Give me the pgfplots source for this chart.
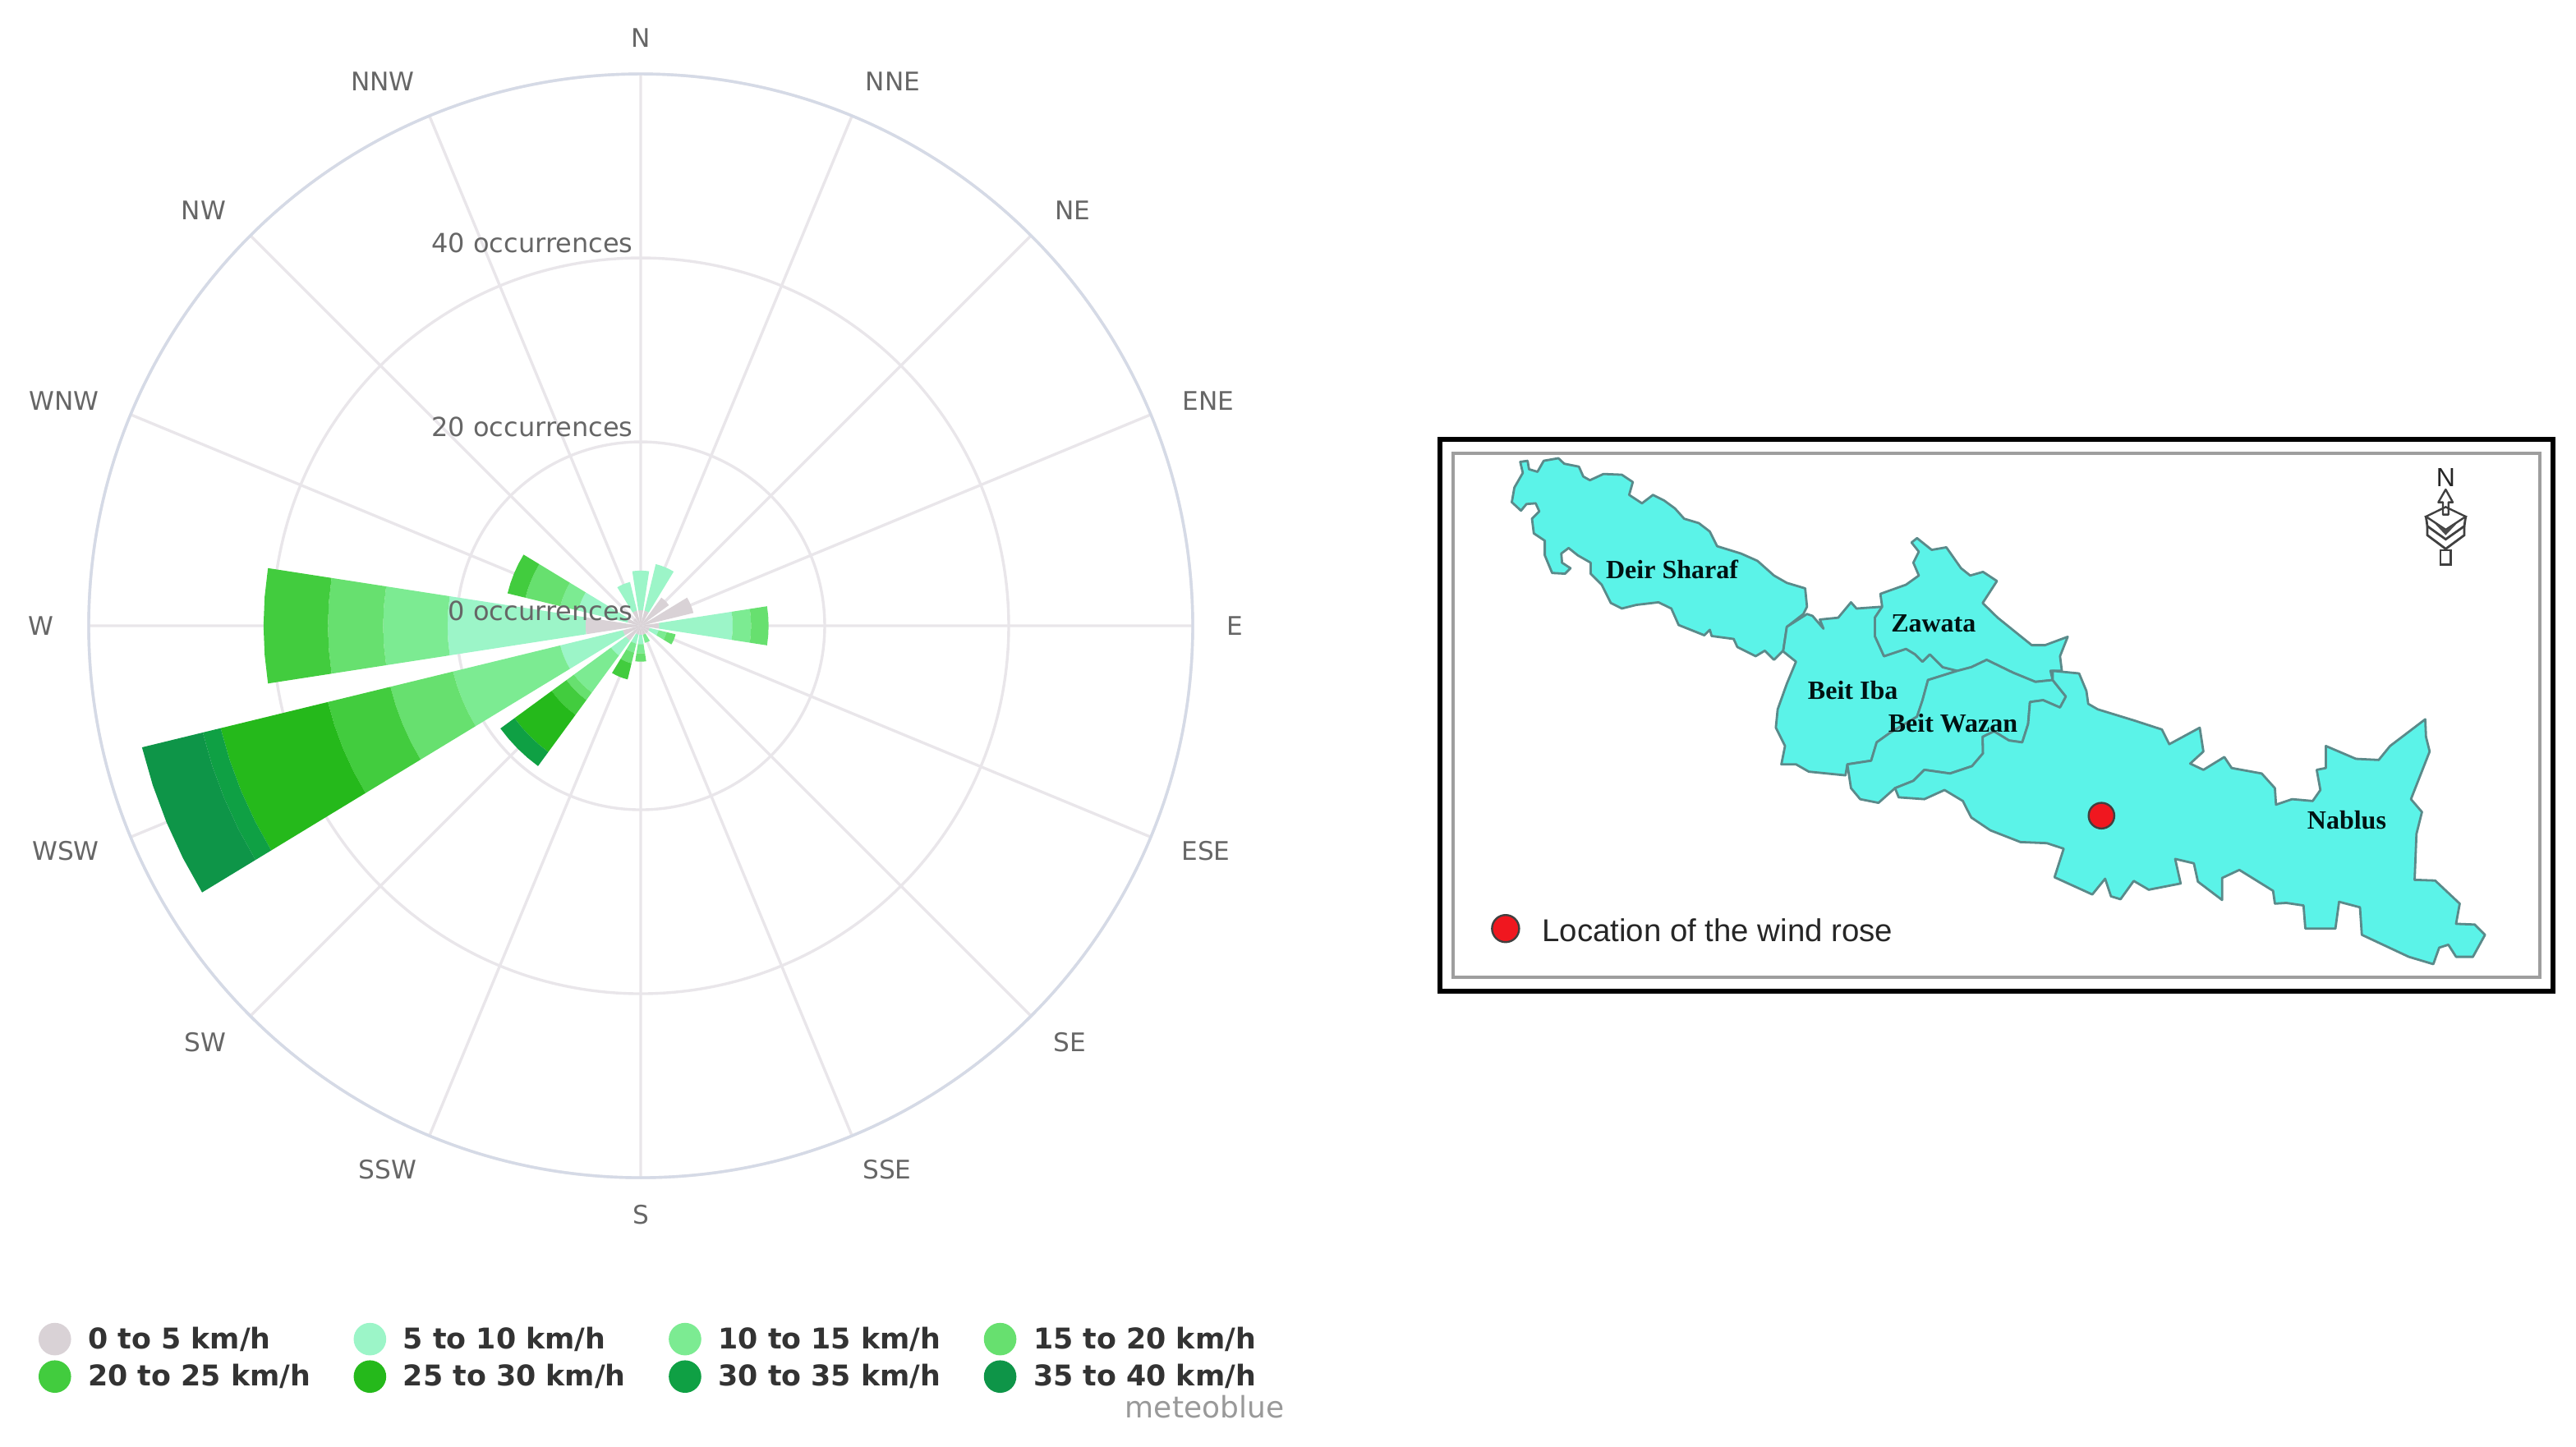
\documentclass[border=0pt]{standalone}
\usepackage{pgfplots}
\pgfplotsset{compat=1.18}
\usepgfplotslibrary{polar}
\usepackage{fontspec}
\setmainfont{DejaVu Sans}
\newfontfamily\tnr{Liberation Serif}
\newfontfamily\arialf{Liberation Sans}
\definecolor{c0}{HTML}{D9D2D6}
\definecolor{c1}{HTML}{9CF5C8}
\definecolor{c2}{HTML}{7CEB92}
\definecolor{c3}{HTML}{67E06F}
\definecolor{c4}{HTML}{42CC3E}
\definecolor{c5}{HTML}{25B91B}
\definecolor{c6}{HTML}{0FA044}
\definecolor{c7}{HTML}{0E9548}
\definecolor{gridc}{HTML}{E9E6EA}
\definecolor{rimc}{HTML}{D5DAE6}
\definecolor{labc}{HTML}{666666}
\definecolor{mapc}{HTML}{5BF3E8}
\definecolor{mapl}{HTML}{5A8A8A}
\definecolor{dotc}{HTML}{F0171F}
% one ring segment of one compass direction: bearing, r from, r to, colour
\newcommand\sector[4]{%
  \pgfmathsetmacro\ta{90-#1-8.8}%
  \pgfmathsetmacro\tb{90-#1-4.4}%
  \pgfmathsetmacro\tc{90-#1}%
  \pgfmathsetmacro\td{90-#1+4.4}%
  \pgfmathsetmacro\te{90-#1+8.8}%
  \edef\tmp{\noexpand\addplot[forget plot,fill=#4,draw=none] coordinates {(\ta,#2)(\tb,#2)(\tc,#2)(\td,#2)(\te,#2)(\te,#3)(\td,#3)(\tc,#3)(\tb,#3)(\ta,#3)} -- cycle;}%
  \tmp}
\begin{document}
\begin{tikzpicture}
\path[use as bounding box] (0pt,0pt) rectangle (784pt,-440.25pt);
\begin{polaraxis}[
  at={(195pt,-190.5pt)},anchor=center,
  scale only axis,width=336pt,height=336pt,
  xmin=0,xmax=360,ymin=0,ymax=60,
  xtick={0,22.5,...,337.5},xticklabels={},
  ytick={20,40,60},yticklabels={},
  major tick length=0pt,
  grid=major,
  grid style={gridc,line width=0.85pt},
  separate axis lines,
  x axis line style={rimc,line width=0.85pt},
  y axis line style={draw=none},
  clip=false,
  legend columns=4,
  legend image code/.code={\fill[#1] (0pt,0pt) circle (4.75pt);},
  legend style={at={(axis description cs:-0.046,-0.1305)},anchor=north west,draw=none,fill=none,
    font=\fontsize{8.7}{10}\bfseries\selectfont,text=black!80,inner sep=0pt,
    row sep=1.2pt,
    nodes={inner sep=0pt,text height=8pt,text depth=2.2pt}},
  legend cell align=left,
]
\addlegendimage{c0}\addlegendentry{\hspace{5.2pt}\makebox[80.8pt][l]{0 to 5 km/h}}
\addlegendimage{c1}\addlegendentry{\hspace{5.2pt}\makebox[80.8pt][l]{5 to 10 km/h}}
\addlegendimage{c2}\addlegendentry{\hspace{5.2pt}\makebox[80.8pt][l]{10 to 15 km/h}}
\addlegendimage{c3}\addlegendentry{\hspace{5.2pt}\makebox[80.8pt][l]{15 to 20 km/h}}
\addlegendimage{c4}\addlegendentry{\hspace{5.2pt}\makebox[80.8pt][l]{20 to 25 km/h}}
\addlegendimage{c5}\addlegendentry{\hspace{5.2pt}\makebox[80.8pt][l]{25 to 30 km/h}}
\addlegendimage{c6}\addlegendentry{\hspace{5.2pt}\makebox[80.8pt][l]{30 to 35 km/h}}
\addlegendimage{c7}\addlegendentry{\hspace{5.2pt}\makebox[80.8pt][l]{35 to 40 km/h}}
% N
\sector{0}{0}{1.7}{c0}\sector{0}{1.7}{6}{c1}
% NNE
\sector{22.5}{0}{1.7}{c0}\sector{22.5}{1.7}{6.9}{c1}
% NE, ENE
\sector{45}{0}{3.8}{c0}
\sector{67.5}{0}{5.9}{c0}
% E
\sector{90}{0}{2}{c0}\sector{90}{2}{10}{c1}\sector{90}{10}{12}{c2}\sector{90}{12}{13.9}{c3}
% ESE
\sector{112.5}{0}{1}{c0}\sector{112.5}{1}{2}{c1}\sector{112.5}{2}{2.9}{c2}\sector{112.5}{2.9}{3.9}{c3}
% SE
\sector{135}{0}{1}{c0}
% SSE
\sector{157.5}{0}{1}{c0}\sector{157.5}{1}{1.9}{c2}
% S
\sector{180}{0}{1}{c0}\sector{180}{1}{2}{c1}\sector{180}{2}{3}{c2}\sector{180}{3}{3.9}{c3}
% SSW
\sector{202.5}{0}{1}{c0}\sector{202.5}{1}{2}{c1}\sector{202.5}{2}{3}{c2}\sector{202.5}{3}{4.2}{c3}\sector{202.5}{4.2}{6}{c4}
% SW
\sector{225}{0}{2}{c0}\sector{225}{2}{4}{c1}\sector{225}{4}{9}{c2}\sector{225}{9}{10}{c3}\sector{225}{10}{12}{c4}\sector{225}{12}{17}{c5}\sector{225}{17}{18.9}{c6}
% WSW
\sector{247.5}{0}{2}{c0}\sector{247.5}{2}{9}{c1}\sector{247.5}{9}{21}{c2}\sector{247.5}{21}{28}{c3}\sector{247.5}{28}{35}{c4}\sector{247.5}{35}{47}{c5}\sector{247.5}{47}{49}{c6}\sector{247.5}{49}{55.8}{c7}
% W
\sector{270}{0}{6}{c0}\sector{270}{6}{21}{c1}\sector{270}{21}{28}{c2}\sector{270}{28}{34}{c3}\sector{270}{34}{41}{c4}
% WNW
\sector{292.5}{0}{1.5}{c0}\sector{292.5}{1.5}{7}{c1}\sector{292.5}{7}{9}{c2}\sector{292.5}{9}{12.9}{c3}\sector{292.5}{12.9}{14.9}{c4}
% NW
\sector{315}{0}{1}{c0}
% NNW
\sector{337.5}{0}{1.7}{c0}\sector{337.5}{1.7}{4.9}{c1}
% radial labels
\node[anchor=south east,inner sep=0pt,labc,font=\fontsize{8}{9}\selectfont,xshift=-2.2pt,yshift=1.4pt] at (axis cs:90,40) {40 occurrences};
\node[anchor=south east,inner sep=0pt,labc,font=\fontsize{8}{9}\selectfont,xshift=-2.2pt,yshift=1.4pt] at (axis cs:90,20) {20 occurrences};
\node[anchor=south east,inner sep=0pt,labc,font=\fontsize{8}{9}\selectfont,xshift=-2.2pt,yshift=1.4pt] at (axis cs:90,0) {0 occurrences};
\end{polaraxis}
% compass labels, positions in reference pixels
\begin{scope}[x=0.25pt,y=-0.25pt,every node/.style={labc,font=\fontsize{7.8}{9}\selectfont,inner sep=0pt}]
\node at (780,46) {N};
\node at (1087,99) {NNE};
\node at (1306,256) {NE};
\node at (1471,488) {ENE};
\node at (1503,762) {E};
\node at (1468,1036) {ESE};
\node at (1302,1269) {SE};
\node at (1080,1424) {SSE};
\node at (780,1479) {S};
\node at (472,1424) {SSW};
\node at (250,1269) {SW};
\node at (80,1036) {WSW};
\node at (50,762) {W};
\node at (78,488) {WNW};
\node at (248,256) {NW};
\node at (466,99) {NNW};
\node[anchor=east,text=black!40,font=\fontsize{9}{10}\selectfont] at (1564,1713) {meteoblue};
% map frame
\draw[black,line width=1.3pt] (1753,535) rectangle (3108,1207);
\draw[black!38,line width=1pt] (1769,552) rectangle (3092,1190);
\end{scope}
% map, traced
\begin{scope}[shift={(435pt,-130pt)},x=0.1116pt,y=-0.1116pt]
\tikzset{region/.style={fill=mapc,draw=mapl,line width=0.7pt,line join=round}}
\path[region] (248,95)--(268,92)--(272,115)--(295,122)--(312,92)--(352,85)--(368,100)--(408,108)--(420,135)--(438,145)--(475,128)--(525,130)--(555,150)--(545,185)--(580,208)--(610,185)--(640,200)--(670,222)--(695,250)--(735,262)--(765,285)--(785,325)--(850,345)--(895,365)--(940,405)--(975,425)--(1025,440)--(1030,490)--(1020,510)--(975,545)--(965,610)--(940,635)--(915,610)--(890,625)--(840,600)--(830,578)--(770,570)--(765,553)--(750,568)--(680,540)--(660,495)--(625,478)--(565,485)--(525,495)--(495,480)--(470,430)--(440,400)--(440,370)--(405,350)--(380,330)--(360,345)--(362,370)--(385,385)--(370,400)--(335,398)--(315,350)--(315,310)--(285,290)--(280,250)--(300,230)--(290,208)--(265,210)--(250,228)--(225,205)--(232,165)--(255,125)--cycle;
\path[region] (1030,510)--(1045,515)--(1075,550)--(1065,525)--(1115,520)--(1150,478)--(1165,495)--(1235,490)--(1215,520)--(1215,570)--(1240,625)--(1300,605)--(1325,620)--(1345,640)--(1365,620)--(1400,655)--(1440,665)--(1360,690)--(1345,745)--(1330,790)--(1255,835)--(1220,860)--(1205,910)--(1140,920)--(1135,950)--(1035,940)--(1000,920)--(960,920)--(970,870)--(945,820)--(950,770)--(975,700)--(1000,640)--(965,612)--(975,545)--cycle;
\path[region] (1235,490)--(1230,455)--(1300,430)--(1335,405)--(1320,370)--(1335,340)--(1315,315)--(1330,303)--(1370,335)--(1410,328)--(1450,385)--(1475,405)--(1510,395)--(1548,420)--(1509,480)--(1550,520)--(1581,545)--(1643,595)--(1679,595)--(1741,572)--(1720,625)--(1725,665)--(1694,665)--(1700,690)--(1653,695)--(1592,670)--(1520,635)--(1478,655)--(1440,665)--(1400,655)--(1365,620)--(1345,640)--(1325,620)--(1300,605)--(1240,625)--(1215,570)--(1215,520)--cycle;
\path[region] (1440,665)--(1478,655)--(1520,635)--(1592,670)--(1653,695)--(1700,690)--(1736,735)--(1720,765)--(1674,745)--(1638,750)--(1633,810)--(1617,860)--(1581,855)--(1540,830)--(1509,845)--(1510,890)--(1480,925)--(1420,945)--(1350,935)--(1320,965)--(1270,985)--(1225,1025)--(1175,1015)--(1150,985)--(1140,920)--(1205,910)--(1220,860)--(1255,835)--(1330,790)--(1345,745)--(1360,690)--cycle;
\path[region] (1700,665)--(1772,672)--(1792,720)--(1797,755)--(1823,770)--(1921,800)--(1998,825)--(2018,865)--(2101,820)--(2111,885)--(2075,918)--(2111,935)--(2168,900)--(2188,930)--(2270,945)--(2306,985)--(2309,1030)--(2353,1015)--(2409,1020)--(2430,990)--(2420,935)--(2445,930)--(2445,870)--(2527,905)--(2589,908)--(2620,870)--(2716,797)--(2718,845)--(2728,885)--(2677,1015)--(2707,1050)--(2692,1110)--(2687,1235)--(2743,1237)--(2810,1300)--(2800,1355)--(2851,1357)--(2879,1385)--(2846,1445)--(2800,1445)--(2779,1412)--(2754,1420)--(2738,1465)--(2671,1445)--(2543,1385)--(2538,1310)--(2481,1295)--(2471,1368)--(2389,1368)--(2384,1305)--(2337,1298)--(2306,1300)--(2301,1265)--(2209,1208)--(2162,1230)--(2162,1290)--(2096,1240)--(2085,1190)--(2034,1178)--(2049,1245)--(1962,1262)--(1921,1238)--(1885,1288)--(1859,1280)--(1843,1232)--(1808,1275)--(1705,1228)--(1730,1150)--(1684,1135)--(1612,1132)--(1530,1100)--(1478,1065)--(1465,1040)--(1455,1020)--(1405,990)--(1350,1015)--(1280,1010)--(1270,985)--(1320,965)--(1350,935)--(1420,945)--(1480,925)--(1510,890)--(1509,845)--(1540,830)--(1581,855)--(1617,860)--(1633,810)--(1638,750)--(1674,745)--(1720,765)--(1736,735)--(1700,690)--cycle;
\tikzset{maptext/.style={font=\tnr\bfseries\fontsize{8}{9}\selectfont,text=black!85!teal,inner sep=0pt}}
\node[maptext] at (662,388) {Deir Sharaf};
\node[maptext] at (1375,535) {Zawata};
\node[maptext] at (1155,718) {Beit Iba};
\node[maptext] at (1428,808) {Beit Wazan};
\node[maptext] at (2502,1073) {Nablus};
\fill[dotc,draw=black!75,line width=0.6pt] (1833,1060) circle (35);
\fill[dotc,draw=black!75,line width=0.6pt] (208,1368) circle (37);
\node[anchor=west,inner sep=0pt,text=black!85,font=\arialf\fontsize{9.6}{11}\selectfont] at (306,1372) {Location of the wind rose};
\end{scope}
% north arrow, from crop at (2900,530), 3x
\begin{scope}[shift={(725pt,-132.5pt)},x=0.08333pt,y=-0.08333pt]
\node[inner sep=0pt,text=black!85,font=\arialf\fontsize{8}{9}\selectfont] at (232,155) {N};
\draw[black!75,line width=0.6pt,fill=white,line join=round] (232,198)--(205,245)--(222,245)--(222,290)--(242,290)--(242,245)--(258,245)--cycle;
\draw[black!75,line width=0.6pt] (232,262)--(160,297)--(232,345)--(305,297)--cycle;
\draw[black!75,line width=0.7pt] (160,297)--(165,332)--(232,380)--(300,332)--(305,297);
\draw[black!75,line width=0.7pt] (165,332)--(165,365)--(232,415)--(300,365)--(300,332);
\fill[black!70] (232,345)--(190,320)--(232,365)--(275,320)--cycle;
\draw[black!75,line width=0.7pt] (213,420) rectangle (250,472);
\end{scope}
\end{tikzpicture}
\end{document}
